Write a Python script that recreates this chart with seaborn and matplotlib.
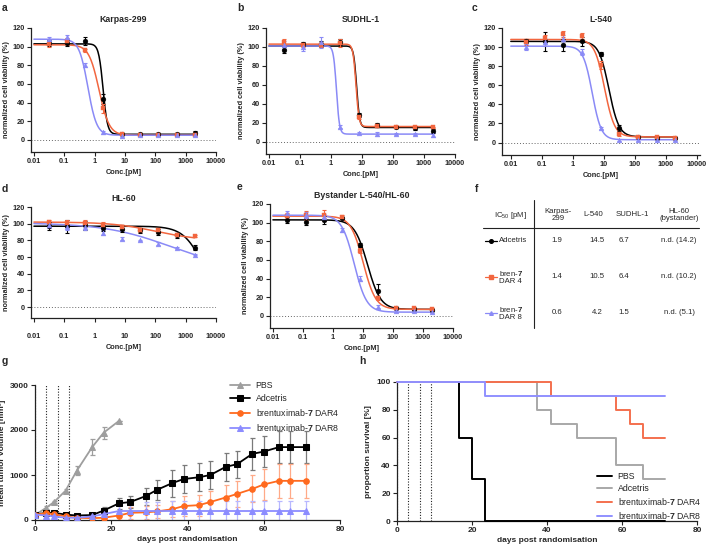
"""
Recreate multi-panel ADC figure: dose-response (a-e), IC50 table (f),
tumour growth (g) and survival (h).
Output: out.png
"""

import numpy as np
import pandas as pd
import matplotlib
matplotlib.use("Agg")
import matplotlib.pyplot as plt
import seaborn as sns
from matplotlib.lines import Line2D
from matplotlib.ticker import FixedLocator, NullLocator

W, H = 709, 546

# ---- dose-response data (a-e) ----
CONC = [0.0305, 0.122, 0.488, 1.95, 7.81, 31.25, 125, 500, 2000]
LOG_TICKS = [0.01, 0.1, 1, 10, 100, 1000, 10000]
LOG_LABELS = ["0.01", "0.1", "1", "10", "100", "1000", "10000"]

# order: Adcetris, bren-7 DAR4, bren-7 DAR8
KARPAS_MEAN = [[104, 104, 106, 44, 6, 6, 6, 6, 7],
               [103, 106, 96, 34, 6, 5, 5, 5, 5],
               [108, 110, 80, 8, 4, 5, 5, 5, 5]]
KARPAS_ERR = [[3, 3, 4, 5, 1, 1, 1, 1, 2],
              [3, 3, 2, 5, 1, 1, 1, 1, 1],
              [2, 2, 2, 2, 1, 1, 1, 1, 1]]
KARPAS_FIT = [(103, 6, 1.9, 6.0), (102, 5, 1.4, 2.6), (108, 5, 0.6, 3.0)]

SUDHL_MEAN = [[97, 103, 103, 105, 28, 18, 15, 14, 11],
              [105, 102, 102, 104, 26, 17, 15, 15, 15],
              [102, 100, 105, 16, 9, 8, 8, 8, 7]]
SUDHL_ERR = [[3, 2, 3, 3, 2, 2, 1, 2, 2],
             [3, 2, 2, 4, 2, 1, 1, 1, 1],
             [4, 4, 6, 2, 1, 2, 1, 1, 2]]
SUDHL_FIT = [(101, 15, 6.7, 9.0), (103, 16, 6.4, 9.0), (101, 8, 1.5, 9.0)]

L540_MEAN = [[106, 106, 102, 106, 93, 15, 6, 5, 5],
             [105, 110, 114, 112, 81, 9, 6, 6, 5],
             [100, 105, 108, 95, 15, 3, 3, 3, 3]]
L540_ERR = [[2, 10, 6, 5, 2, 3, 1, 1, 1],
            [3, 3, 3, 3, 4, 2, 1, 1, 1],
            [3, 4, 5, 3, 1, 1, 1, 1, 1]]
L540_FIT = [(106, 6, 14.5, 2.7), (108, 6, 10.5, 2.7), (101, 3, 4.2, 3.0)]

HL60_MEAN = [[97, 97, 98, 95, 94, 92, 90, 86, 71],
             [102, 101, 101, 99, 96, 92, 92, 87, 85],
             [98, 96, 96, 89, 82, 80, 76, 71, 63]]
HL60_ERR = [[5, 8, 5, 4, 4, 3, 4, 3, 3],
            [3, 3, 3, 3, 3, 2, 3, 2, 1],
            [3, 3, 3, 3, 2, 1, 2, 1, 1]]
HL60_FIT = [(97, 0, 4000, 1.3), (102, 80, 100, 0.6), (101, 45, 300, 0.4)]

BYST_MEAN = [[103, 101, 103, 105, 76, 27, 8, 7, 6],
             [107, 108, 108, 106, 70, 19, 8, 8, 7],
             [110, 108, 106, 92, 40, 10, 5, 5, 4]]
BYST_ERR = [[3, 4, 4, 1, 2, 7, 1, 1, 1],
            [3, 5, 6, 2, 3, 2, 1, 1, 1],
            [3, 3, 3, 2, 3, 2, 1, 1, 1]]
BYST_FIT = [(103, 7, 14.2, 2.0), (107, 7, 10.2, 2.1), (108, 4, 5.1, 2.1)]

DR_COLORS = ["#000000", "#F2663F", "#8A8AF6"]
DR_MARKERS = ["o", "s", "^"]

# ---- IC50 table (f) ----
TABLE_HEADERS = ["Karpas-\n299", "L-540", "SUDHL-1", "HL-60\n(bystander)"]
TABLE_ROWS = ["Adcetris", "bren-$\\mathbf{7}$\nDAR 4", "bren-$\\mathbf{7}$\nDAR 8"]
TABLE_VALUES = [["1.9", "14.5", "6.7", "n.d. (14.2)"],
                ["1.4", "10.5", "6.4", "n.d. (10.2)"],
                ["0.6", "4.2", "1.5", "n.d. (5.1)"]]

# ---- tumour growth (g) ----
DAYS = [0, 3, 5, 8, 11, 15, 18, 22, 25, 29, 32, 36, 39, 43, 46, 50, 53, 57, 60, 64, 67, 71]
PBS_VOL = [110, 275, 400, 650, 1100, 1620, 1940, 2200]
PBS_ERR = [10, 30, 30, 50, 90, 180, 130, 0]
ADC_VOL = [120, 160, 160, 120, 100, 110, 210, 370, 400, 530, 670, 820, 910, 950, 1000,
           1180, 1240, 1470, 1520, 1620, 1620, 1620]
ADC_ERR = [15, 20, 20, 20, 20, 30, 90, 130, 140, 190, 230, 300, 320, 310, 320,
           310, 300, 350, 340, 360, 360, 360]
DAR4_VOL = [120, 150, 130, 80, 50, 40, 50, 100, 160, 170, 190, 240, 310, 330, 400,
            500, 580, 690, 790, 870, 870, 870]
DAR4_ERR = [15, 20, 20, 20, 20, 20, 30, 100, 140, 150, 150, 180, 230, 230, 240,
            270, 280, 300, 340, 380, 380, 380]
DAR8_VOL = [120, 100, 80, 50, 50, 80, 130, 200, 200, 200, 200, 200, 200, 200, 200,
            200, 200, 200, 200, 200, 200, 200]
DAR8_ERR = [15, 20, 20, 20, 20, 40, 60, 200, 210, 210, 210, 220, 220, 220, 220,
            220, 220, 220, 220, 220, 220, 220]
DOSING_DAYS = [0, 3, 6, 9]

# ---- survival (h) ----
PBS_T = [0, 16.5, 20, 23.5, 71.5]
PBS_S = [100, 60, 30, 0, 0]
ADC_T = [0, 37.3, 41, 48, 58.5, 65.5, 71.5]
ADC_S = [100, 80, 70, 60, 40, 30, 30]
DAR4_T = [0, 41, 58.5, 62, 65.5, 71.5]
DAR4_S = [100, 90, 80, 70, 60, 60]
DAR8_T = [0, 23.5, 71.5]
DAR8_S = [100, 90, 90]

SERIES_NAMES = ["PBS", "Adcetris", "brentuximab-$\\mathbf{7}$ DAR4", "brentuximab-$\\mathbf{7}$ DAR8"]

sns.set_theme(style="ticks")
plt.rcParams["font.family"] = ["Liberation Sans", "DejaVu Sans"]
plt.rcParams["mathtext.fontset"] = "custom"
plt.rcParams["mathtext.rm"] = "Liberation Sans"
plt.rcParams["mathtext.bf"] = "Liberation Sans:bold"
plt.rcParams["axes.linewidth"] = 0.9
plt.rcParams["axes.edgecolor"] = "#222222"

fig = plt.figure(figsize=(W / 100, H / 100), dpi=100)


def add_ax(left, top, right, bottom):
    return fig.add_axes([left / W, 1 - bottom / H, (right - left) / W, (bottom - top) / H])


def fx(x):
    return x / W


def fy(y):
    return 1 - y / H


def style_ax(ax, size):
    sns.despine(ax=ax)
    ax.tick_params(axis="both", direction="out", length=3, width=0.8, labelsize=size, pad=1.5,
                   color="#222222")
    for lab in ax.get_xticklabels() + ax.get_yticklabels():
        lab.set_fontweight("bold")


def dose_panel(box, title, means, errs, fits, xlim=(0.008, 10000), xpad=1.5):
    ax = add_ax(*box)
    ax.set_xscale("log")
    xs = np.logspace(-2, np.log10(2000), 300)
    for i in range(3):
        top, bot, ic50, hill = fits[i]
        yc = bot + (top - bot) / (1 + (xs / ic50) ** hill)
        sns.lineplot(x=xs, y=yc, ax=ax, color=DR_COLORS[i], lw=1.1, zorder=2)
        ax.errorbar(CONC, means[i], yerr=errs[i], fmt="none", ecolor=DR_COLORS[i],
                    elinewidth=0.8, capsize=1.6, capthick=0.8, zorder=3)
        sns.scatterplot(x=CONC, y=means[i], ax=ax, marker=DR_MARKERS[i], s=12,
                        color=DR_COLORS[i], edgecolor=DR_COLORS[i], linewidth=0.3, zorder=4)
    ax.axhline(0, color="#666666", lw=0.7, ls=(0, (1, 2)), zorder=1)
    ax.set_xlim(*xlim)
    ax.set_ylim(-13, 120)
    ax.xaxis.set_major_locator(FixedLocator(LOG_TICKS))
    ax.xaxis.set_minor_locator(NullLocator())
    ax.set_xticklabels(LOG_LABELS)
    ax.set_yticks([0, 20, 40, 60, 80, 100, 120])
    ax.set_title(title, fontsize=6.3, fontweight="bold", pad=4)
    ax.set_xlabel("Conc.[pM]", fontsize=5.3, fontweight="bold", labelpad=3)
    ax.set_ylabel("normalized cell viability (%)", fontsize=5.3, fontweight="bold", labelpad=2)
    style_ax(ax, 5.3)
    ax.tick_params(axis="x", pad=xpad)
    return ax


dose_panel((31, 28, 216, 152), "Karpas-299", KARPAS_MEAN, KARPAS_ERR, KARPAS_FIT)
dose_panel((266, 28, 455, 154), "SUDHL-1", SUDHL_MEAN, SUDHL_ERR, SUDHL_FIT)
dose_panel((502, 28, 700, 155), "L-540", L540_MEAN, L540_ERR, L540_FIT, xlim=(0.0052, 12500))
dose_panel((31, 207, 216, 318), "HL-60", HL60_MEAN, HL60_ERR, HL60_FIT, xpad=8)
dose_panel((270, 204, 453, 328), "Bystander L-540/HL-60", BYST_MEAN, BYST_ERR, BYST_FIT)

# ---- panel letters ----
for letter, (x, y) in zip("abcdefgh", [(2, 8), (237, 8), (472, 8), (2, 189), (237, 187),
                                       (475, 189), (2, 361), (359, 361)]):
    fig.text(fx(x), fy(y), letter, fontsize=7.5, fontweight="bold", va="center", ha="left")

# ---- table f ----
tfs = 5.6
fig.add_artist(Line2D([fx(534), fx(534)], [fy(200), fy(328)], color="#222222", lw=0.8))
fig.add_artist(Line2D([fx(483), fx(699)], [fy(228), fy(228)], color="#222222", lw=0.8))
fig.text(fx(527), fy(216), "IC$_{50}$ [pM]", fontsize=tfs, ha="right", va="center")
for hdr, x in zip(TABLE_HEADERS, [558, 593, 632, 679]):
    fig.text(fx(x), fy(215), hdr, fontsize=tfs, ha="center", va="center", linespacing=1.1)
row_y = [241, 277, 313]
for i, (name, y) in enumerate(zip(TABLE_ROWS, row_y)):
    fig.add_artist(Line2D([fx(485), fx(497)], [fy(y), fy(y)], color=DR_COLORS[i], lw=0.9))
    fig.add_artist(Line2D([fx(491)], [fy(y)], color=DR_COLORS[i], marker=DR_MARKERS[i],
                          markersize=2.6, lw=0))
    fig.text(fx(499), fy(y), name, fontsize=tfs, ha="left", va="center", linespacing=1.1)
    for val, x in zip(TABLE_VALUES[i], [557, 597, 624, 679]):
        fig.text(fx(x), fy(y), val, fontsize=tfs, ha="center", va="center")

# ---- panel g: tumour growth ----
axg = add_ax(35, 385, 340, 520)
g_series = [(PBS_VOL, PBS_ERR, "#9E9E9E", "#9E9E9E", "^"),
            (ADC_VOL, ADC_ERR, "#000000", "#7A7A7A", "s"),
            (DAR4_VOL, DAR4_ERR, "#FF6A1F", "#FFAA88", "o"),
            (DAR8_VOL, DAR8_ERR, "#8C8CFF", "#B8B8FF", "^")]
for (vol, err, col, ecol, mk), name in zip(g_series, SERIES_NAMES):
    d = pd.DataFrame({"day": DAYS[:len(vol)], "vol": vol})
    axg.errorbar(d["day"], d["vol"], yerr=err, fmt="none", ecolor=ecol, elinewidth=0.9,
                 capsize=1.8, capthick=0.9, zorder=2)
    sns.lineplot(data=d, x="day", y="vol", ax=axg, color=col, lw=1.3, marker=mk,
                 markersize=4, markeredgecolor=col, label=name, zorder=3)
for d0 in DOSING_DAYS:
    axg.axvline(d0, color="#222222", lw=0.8, ls=(0, (1, 1.5)), zorder=1)
axg.set_xlim(0, 80)
axg.set_ylim(0, 3000)
axg.set_xticks([0, 20, 40, 60, 80])
axg.set_yticks([0, 1000, 2000, 3000])
axg.set_xlabel("days post randomisation", fontsize=6, fontweight="bold", labelpad=2)
axg.set_ylabel("mean tumor volume [mm³]", fontsize=6, fontweight="bold", labelpad=3)
style_ax(axg, 6)
axg.legend(loc="upper left", bbox_to_anchor=(0.64, 1.03), frameon=False, fontsize=6.3,
           handlelength=2.3, labelspacing=0.45, borderaxespad=0, borderpad=0, handletextpad=0.6)

# ---- panel h: survival ----
axh = add_ax(397, 382, 697, 521)
h_series = [(PBS_T, PBS_S, "#000000"), (ADC_T, ADC_S, "#A8A8A8"),
            (DAR4_T, DAR4_S, "#F4704E"), (DAR8_T, DAR8_S, "#9090FF")]
for (t, s, col), name in zip(h_series, SERIES_NAMES):
    sns.lineplot(x=t, y=s, ax=axh, color=col, lw=1.4, drawstyle="steps-post", label=name,
                 clip_on=False, zorder=3)
for d0 in DOSING_DAYS:
    axh.axvline(d0, color="#222222", lw=0.8, ls=(0, (1, 1.5)), zorder=1)
axh.set_xlim(0, 80)
axh.set_ylim(0, 100)
axh.set_xticks([0, 20, 40, 60, 80])
axh.set_yticks([0, 20, 40, 60, 80, 100])
axh.set_xlabel("days post randomisation", fontsize=6, fontweight="bold", labelpad=2)
axh.set_ylabel("proportion survival [%]", fontsize=6, fontweight="bold", labelpad=3)
style_ax(axh, 6)
axh.legend(loc="lower left", bbox_to_anchor=(0.665, 0.0), frameon=False, fontsize=6.3,
           handlelength=1.8, labelspacing=0.35, borderaxespad=0, borderpad=0, handletextpad=0.6)

fig.savefig("out.png", dpi=100)
